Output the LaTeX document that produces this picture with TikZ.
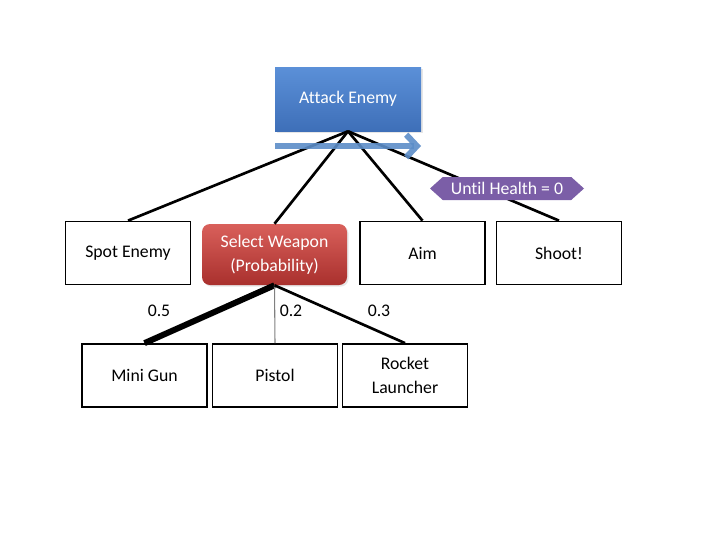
\documentclass[tikz,border=0pt]{standalone}
\usepackage{fontspec}
\setmainfont{Carlito}[Ligatures=NoCommon]
\usetikzlibrary{shapes.symbols,arrows.meta,shadows}
\definecolor{bluetop}{HTML}{5B90D8}
\definecolor{bluebot}{HTML}{3E6FB8}
\definecolor{redtop}{HTML}{D9605B}
\definecolor{redbot}{HTML}{A9302D}
\definecolor{purp}{HTML}{7B5EA7}
\definecolor{arrblue}{HTML}{5C8DC8}
\begin{document}
\begin{tikzpicture}[x=0.75pt,y=-0.75pt,
  every node/.style={font=\fontsize{13.3}{18}\selectfont, align=center, inner sep=0pt},
  plainbox/.style={draw=black, line width=1.3pt, fill=white, minimum width=125*0.75pt, minimum height=63*0.75pt},
  bluebox/.style={top color=bluetop, bottom color=bluebot, draw=none, text=white, minimum width=146*0.75pt, minimum height=64*0.75pt, drop shadow={opacity=0.2, shadow xshift=1.2pt, shadow yshift=-1.2pt}},
  redbox/.style={top color=redtop, bottom color=redbot, draw=none, rounded corners=6pt, text=white, minimum width=145*0.75pt, minimum height=61*0.75pt, drop shadow={opacity=0.2, shadow xshift=1.2pt, shadow yshift=-1.2pt}},
  hexbox/.style={signal, signal to=west and east, signal pointer angle=84, fill=purp, text=white, minimum width=154*0.75pt, minimum height=23*0.75pt, inner xsep=4pt},
  link/.style={line width=2pt, black},
  problabel/.style={font=\fontsize{13.3}{16}\selectfont}
]
\useasboundingbox (0,0) rectangle (720,540);

\node[bluebox] (ae) at (348,99) {\raisebox{-2pt}{Attack Enemy}};

\node[plainbox] (se) at (128,253) {Spot Enemy};
\node[redbox] (sw) at (274.5,254.5) {Select Weapon\\(Probability)};
\node[plainbox] (aim) at (422.5,253) {Aim};
\node[plainbox] (sh) at (559,253) {Shoot!};

\draw[link] (ae.south) -- (se.north);
\draw[link] (ae.south) -- (sw.north);
\draw[link] (ae.south) -- (aim.north);
\draw[link] (ae.south) -- (sh.north);

\coordinate (arrs) at (275,146);
\coordinate (arre) at (421,146);
\draw[arrblue, opacity=0.9, line width=4.5pt, -{Straight Barb[length=8pt,width=17pt]}] (arrs) -- (arre);

\node[hexbox] (hx) at (507,188.5) {Until Health = 0};

\node[plainbox] (mg) at (144.5,375.5) {Mini Gun};
\node[plainbox] (pi) at (275,375.5) {Pistol};
\node[plainbox] (rl) at (405,375.5) {Rocket\\Launcher};

\draw[black, line width=4.5pt] (sw.south) -- (mg.north);
\draw[gray, line width=0.8pt] (sw.south) -- (pi.north);
\draw[black, line width=2pt] (sw.south) -- (rl.north);

\node[problabel] (p1) at (159,311) {0.5};
\node[problabel] (p2) at (291,311) {0.2};
\node[problabel] (p3) at (379,311) {0.3};
\end{tikzpicture}
\end{document}
